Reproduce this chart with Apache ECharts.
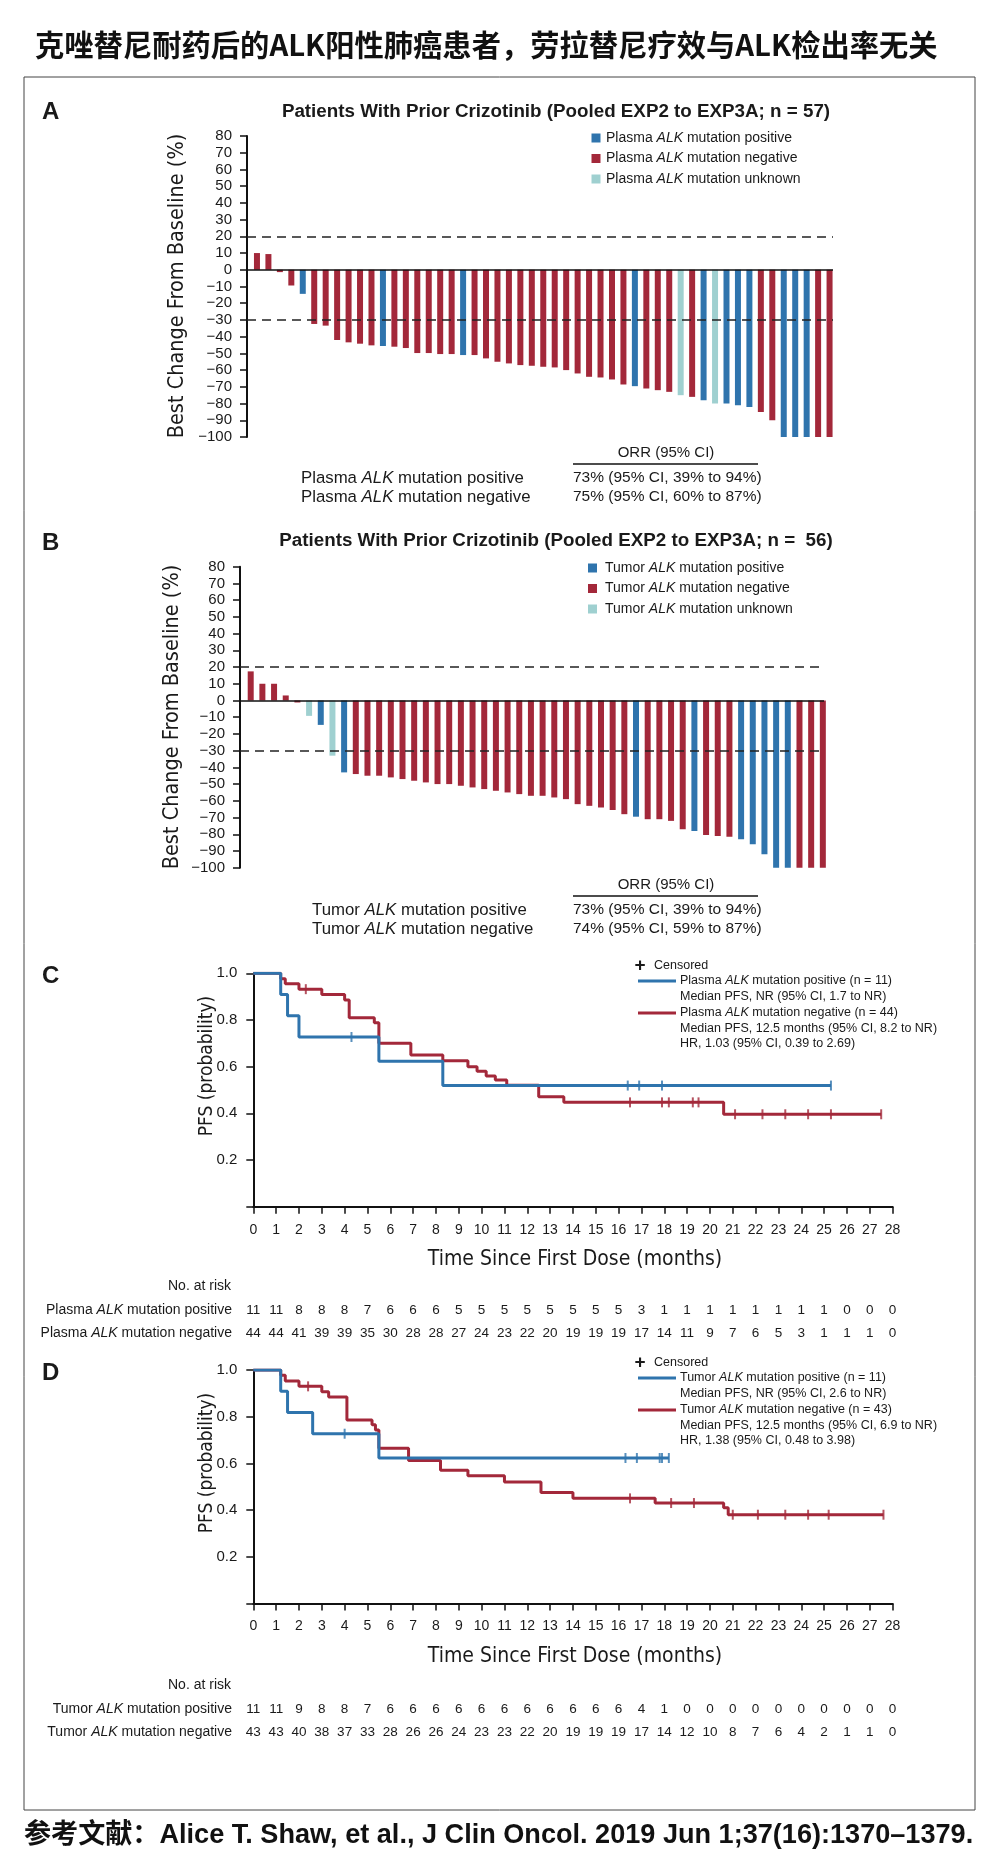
<!DOCTYPE html>
<html><head><meta charset="utf-8">
<script src="https://cdn.jsdelivr.net/npm/echarts@6/dist/echarts.min.js"></script>
<style>html,body{margin:0;padding:0;background:#fff}#c{width:993px;height:1860px}</style>
</head><body><div id="c"></div>
<script>
const FONT = "'Liberation Sans', Arial, Helvetica, sans-serif";
const COND = "'Liberation Sans Narrow','DejaVu Sans Condensed','Liberation Sans',sans-serif";
const CJK = "'Noto Sans CJK SC', sans-serif";
const MIX = "'Liberation Sans', 'Noto Sans CJK SC', sans-serif";
const INK = '#1a1a1a';
const BLUE = '#2f74ad', RED = '#a3283a', TEAL = '#9fd0d0';

// ---------- Panel A waterfall (plasma) ----------
const wfA_values = [10, 9.4, -1.4, -9.4, -14.4, -32.4, -33.4, -42, -43.4, -44.2, -45.2, -45.6, -46, -46.8, -49.8, -49.8, -50.4, -50.4, -51, -51, -53, -55, -56, -57, -57.4, -58, -58.4, -60, -62, -64, -64.4, -65.6, -68.6, -69.6, -71, -72, -73, -75, -76, -78, -80, -80, -81, -82, -85, -90, -100, -100, -100, -100, -100];
const wfA_status = ['N','N','N','N','P','N','N','N','N','N','N','P','N','N','N','N','N','N','P','N','N','N','N','N','N','N','N','N','N','N','N','N','N','P','N','N','N','U','N','P','U','P','P','P','N','N','P','P','P','N','N'];

// ---------- Panel B waterfall (tumor) ----------
const wfB_values = [17.4, 10, 10, 3, -1.2, -9.2, -14.6, -33, -43, -44, -45, -45, -46, -47, -48, -49, -50, -50, -51, -52, -53, -54, -55, -56, -57, -57, -58, -59, -62, -63, -64, -65.5, -68, -69.5, -71, -71, -72, -77, -78, -80.5, -81, -81.5, -83, -86, -92, -100, -100, -100, -100, -100];
const wfB_status = ['N','N','N','N','N','U','P','U','P','N','N','N','N','N','N','N','N','N','N','N','N','N','N','N','N','N','N','N','N','N','N','N','N','P','N','N','N','N','P','N','N','N','P','P','P','P','P','N','N','N'];

// ---------- Panel C Kaplan-Meier (plasma) ----------
const kmC_pos_t = [0, 1.2, 1.5, 2.0, 5.5, 8.3, 25.3];
const kmC_pos_s = [1, 0.909, 0.818, 0.727, 0.623, 0.519, 0.519];
const kmC_pos_cens = [4.3, 16.4, 16.9, 17.9, 25.3];
const kmC_neg_t = [0, 1.2, 1.4, 2.0, 3.0, 4.0, 4.2, 5.3, 5.5, 6.9, 8.3, 9.4, 9.8, 10.2, 10.6, 11.1, 12.5, 13.6, 20.6, 27.5];
const kmC_neg_s = [1, 0.977, 0.955, 0.932, 0.909, 0.886, 0.81, 0.788, 0.70, 0.65, 0.625, 0.60, 0.58, 0.56, 0.543, 0.52, 0.471, 0.447, 0.396, 0.396];
const kmC_neg_cens = [2.3, 16.5, 17.9, 18.2, 19.25, 19.5, 21.1, 22.3, 23.3, 24.3, 25.3, 27.5];
const riskC_pos = [11,11,8,8,8,7,6,6,6,5,5,5,5,5,5,5,5,3,1,1,1,1,1,1,1,1,0,0,0];
const riskC_neg = [44,44,41,39,39,35,30,28,28,27,24,23,22,20,19,19,19,17,14,11,9,7,6,5,3,1,1,1,0];

// ---------- Panel D Kaplan-Meier (tumor) ----------
const kmD_pos_t = [0, 1.2, 1.5, 2.6, 5.5, 18.2];
const kmD_pos_s = [1, 0.909, 0.818, 0.727, 0.623, 0.623];
const kmD_pos_cens = [4.0, 16.3, 16.8, 17.8, 17.9, 18.2];
const kmD_neg_t = [0, 1.2, 1.4, 2.0, 3.0, 3.3, 4.1, 5.2, 5.35, 5.5, 6.8, 8.2, 9.4, 11.0, 12.6, 14.0, 17.6, 20.6, 20.8, 27.6];
const kmD_neg_s = [1, 0.977, 0.953, 0.930, 0.907, 0.884, 0.786, 0.765, 0.743, 0.665, 0.612, 0.57, 0.547, 0.52, 0.475, 0.45, 0.43, 0.41, 0.38, 0.38];
const kmD_neg_cens = [2.4, 16.5, 18.3, 19.3, 21.0, 22.1, 23.3, 24.3, 25.2, 27.6];
const riskD_pos = [11,11,9,8,8,7,6,6,6,6,6,6,6,6,6,6,6,4,1,0,0,0,0,0,0,0,0,0,0];
const riskD_neg = [43,43,40,38,37,33,28,26,26,24,23,23,22,20,19,19,19,17,14,12,10,8,7,6,4,2,1,1,0];

const statusColor = {P: BLUE, N: RED, U: TEAL};

const chart = echarts.init(document.getElementById('c'), null, {width: 993, height: 1860});

function wfX(gi, min, max) {
  return {type: 'value', gridIndex: gi, min, max, show: false};
}
function wfY(gi) {
  return {type: 'value', gridIndex: gi, min: -100, max: 80, interval: 10,
    axisLine: {show: true, onZero: false, lineStyle: {color: '#111', width: 2}},
    axisTick: {show: true, length: 7, lineStyle: {color: '#111', width: 1.5}},
    axisLabel: {color: INK, fontSize: 15, fontFamily: FONT, margin: 15,
      formatter: v => v < 0 ? '\u2212' + Math.abs(v) : String(v)},
    splitLine: {show: false}};
}
function wfSeries(gi, vals, stat) {
  const out = [];
  ['P', 'N', 'U'].forEach((s, k) => {
    const ser = {type: 'bar', xAxisIndex: gi, yAxisIndex: gi, barWidth: 6, barGap: '-100%',
      itemStyle: {color: statusColor[s]}, silent: true,
      data: vals.map((v, i) => stat[i] === s ? [i, v] : null).filter(d => d)};
    if (k === 0) {
      ser.markLine = {silent: true, symbol: 'none', label: {show: false},
        data: [
          {yAxis: 20, lineStyle: {type: [9, 6], color: '#222', width: 1.6}},
          {yAxis: -30, lineStyle: {type: [9, 6], color: '#222', width: 1.6}},
          {yAxis: 0, lineStyle: {type: 'solid', color: '#111', width: 1.6}}
        ]};
    }
    out.push(ser);
  });
  return out;
}
function kmX(gi) {
  return {type: 'value', gridIndex: gi, min: 0, max: 28, interval: 1,
    axisLine: {show: true, onZero: false, lineStyle: {color: '#111', width: 2}},
    axisTick: {show: true, length: 7, lineStyle: {color: '#111', width: 1.5}},
    axisLabel: {color: INK, fontSize: 14, fontFamily: FONT, margin: 16},
    splitLine: {show: false}};
}
function kmY(gi) {
  return {type: 'value', gridIndex: gi, min: 0, max: 1, interval: 0.2,
    axisLine: {show: true, onZero: false, lineStyle: {color: '#111', width: 2}},
    axisTick: {show: true, length: 7, lineStyle: {color: '#111', width: 1.5}},
    axisLabel: {color: INK, fontSize: 15, fontFamily: FONT, margin: 16,
      formatter: v => v === 0 ? '' : v.toFixed(1)},
    splitLine: {show: false}};
}
function survAt(t, s, x) {
  let v = s[0];
  for (let i = 0; i < t.length; i++) { if (t[i] <= x) v = s[i]; }
  return v;
}
function kmSeries(gi, t, s, cens, color, z) {
  return [
    {type: 'line', xAxisIndex: gi, yAxisIndex: gi, step: 'end', symbol: 'none', silent: true, z,
      lineStyle: {color, width: 3}, data: t.map((x, i) => [x, s[i]])},
    {type: 'scatter', xAxisIndex: gi, yAxisIndex: gi, symbol: 'rect', symbolSize: [2, 10], silent: true, z: z + 1,
      itemStyle: {color}, data: cens.map(c => [c, survAt(t, s, c)])}
  ];
}

const option = {
  animation: false,
  backgroundColor: '#fff',
  grid: [
    {left: 247, top: 136, width: 586, height: 301},
    {left: 240, top: 566.7, width: 584, height: 301},
    {left: 253.3, top: 973.3, width: 639.3, height: 233.4},
    {left: 253.3, top: 1370, width: 639.3, height: 233.4}
  ],
  xAxis: [wfX(0, -0.87, 50.3), wfX(1, -0.917, 49.1), kmX(2), kmX(3)],
  yAxis: [wfY(0), wfY(1), kmY(2), kmY(3)],
  series: [].concat(
    wfSeries(0, wfA_values, wfA_status),
    wfSeries(1, wfB_values, wfB_status),
    kmSeries(2, kmC_neg_t, kmC_neg_s, kmC_neg_cens, RED, 3),
    kmSeries(2, kmC_pos_t, kmC_pos_s, kmC_pos_cens, BLUE, 5),
    kmSeries(3, kmD_neg_t, kmD_neg_s, kmD_neg_cens, RED, 3),
    kmSeries(3, kmD_pos_t, kmD_pos_s, kmD_pos_cens, BLUE, 5)
  )
};
chart.setOption(option);

// ---------- text & decorations ----------
function T(x, y, text, o) {
  o = o || {};
  const size = o.s || 14, fam = o.f || FONT, w = o.w || 'normal';
  const st = {text, x: 0, y: 0, fill: o.c || INK, fontSize: size, fontFamily: fam, fontWeight: w,
    align: o.a || 'left', verticalAlign: o.v || 'middle'};
  if (o.rich) st.rich = o.rich;
  return {type: 'text', x, y, rotation: o.r || 0, silent: true, z: 10, style: st};
}
function alkRich(size) {
  return {
    n: {fontSize: size, fontFamily: FONT, fill: INK, color: INK},
    i: {fontSize: size, fontFamily: FONT, fontStyle: 'italic', fill: INK, color: INK}
  };
}
function alkText(x, y, pre, post, size, align) {
  return T(x, y, '{n|' + pre + '}{i|ALK}{n|' + post + '}', {s: size, a: align, rich: alkRich(size)});
}
function sq(x, y, color, size) {
  return {type: 'rect', silent: true, z: 10, shape: {x: x - size / 2, y: y - size / 2, width: size, height: size}, style: {fill: color}};
}
function ln(x1, y1, x2, y2, color, w) {
  return {type: 'line', silent: true, z: 10, shape: {x1, y1, x2, y2}, style: {stroke: color, lineWidth: w}};
}

const g = [];
// frame
g.push({type: 'rect', silent: true, z: 1, shape: {x: 24, y: 77, width: 951, height: 1733}, style: {fill: 'none', stroke: '#444', lineWidth: 1}});
// header / footer
g.push(T(35, 45, '克唑替尼耐药后的ALK阳性肺癌患者，劳拉替尼疗效与ALK检出率无关', {s: 29.3, f: CJK, w: 'bold', c: '#111'}));
g.push(T(24, 1836, '参考文献：Alice T. Shaw, et al., J Clin Oncol. 2019 Jun 1;37(16):1370\u20131379.', {s: 27.1, f: MIX, w: 'bold', c: '#111'}));

// Panel A
g.push(T(42, 112, 'A', {s: 24, w: 'bold'}));
g.push(T(556, 112, 'Patients With Prior Crizotinib (Pooled EXP2 to EXP3A; n = 57)', {s: 18.8, w: 'bold', a: 'center'}));
[['Plasma ', ' mutation positive', BLUE, 138], ['Plasma ', ' mutation negative', RED, 158.5], ['Plasma ', ' mutation unknown', TEAL, 179]].forEach(r => {
  g.push(sq(596, r[3], r[2], 9));
  g.push(alkText(606, r[3], r[0], r[1], 14));
});
g.push(T(177, 286, 'Best Change From Baseline (%)', {s: 21.5, f: COND, a: 'center', r: Math.PI / 2}));
g.push(T(666, 453, 'ORR (95% CI)', {s: 15, a: 'center'}));
g.push(ln(573, 464, 758, 464, '#111', 1.5));
g.push(alkText(301, 478, 'Plasma ', ' mutation positive', 16.8));
g.push(alkText(301, 497, 'Plasma ', ' mutation negative', 16.8));
g.push(T(573, 478, '73% (95% CI, 39% to 94%)', {s: 15.5}));
g.push(T(573, 497, '75% (95% CI, 60% to 87%)', {s: 15.5}));

// Panel B
g.push(T(42, 543, 'B', {s: 24, w: 'bold'}));
g.push(T(556, 541, 'Patients With Prior Crizotinib (Pooled EXP2 to EXP3A; n =  56)', {s: 18.8, w: 'bold', a: 'center'}));
[['Tumor ', ' mutation positive', BLUE, 568], ['Tumor ', ' mutation negative', RED, 588.5], ['Tumor ', ' mutation unknown', TEAL, 609]].forEach(r => {
  g.push(sq(592.5, r[3], r[2], 9));
  g.push(alkText(605, r[3], r[0], r[1], 14));
});
g.push(T(172, 717, 'Best Change From Baseline (%)', {s: 21.5, f: COND, a: 'center', r: Math.PI / 2}));
g.push(T(666, 885, 'ORR (95% CI)', {s: 15, a: 'center'}));
g.push(ln(573, 896, 758, 896, '#111', 1.5));
g.push(alkText(312, 910, 'Tumor ', ' mutation positive', 16.8));
g.push(alkText(312, 929, 'Tumor ', ' mutation negative', 16.8));
g.push(T(573, 910, '73% (95% CI, 39% to 94%)', {s: 15.5}));
g.push(T(573, 929, '74% (95% CI, 59% to 87%)', {s: 15.5}));

// KM panels
function kmDecor(letter, dy, word, npos, nneg, medPos, medNeg, hr, riskPos, riskNeg, gi) {
  g.push(T(42, 976 + dy, letter, {s: 24, w: 'bold'}));
  g.push(T(207, 1066 + dy, 'PFS (probability)', {s: 19, f: COND, a: 'center', r: Math.PI / 2}));
  g.push(T(575, 1260 + dy, 'Time Since First Dose (months)', {s: 21, f: COND, a: 'center'}));
  // legend
  g.push(T(640, 966 + dy, '+', {s: 19, w: 'bold', a: 'center'}));
  g.push(T(654, 966 + dy, 'Censored', {s: 12.5}));
  g.push(ln(638, 981 + dy, 676, 981 + dy, BLUE, 3));
  g.push(alkText(680, 981 + dy, word, ' mutation positive (n = ' + npos + ')', 12.5));
  g.push(T(680, 996.5 + dy, medPos, {s: 12.5}));
  g.push(ln(638, 1013 + dy, 676, 1013 + dy, RED, 3));
  g.push(alkText(680, 1013 + dy, word, ' mutation negative (n = ' + nneg + ')', 12.5));
  g.push(T(680, 1028.5 + dy, medNeg, {s: 12.5}));
  g.push(T(680, 1044 + dy, hr, {s: 12.5}));
  // risk table
  const r0 = dy === 0 ? 1286 : 1288 + dy;
  const r1 = dy === 0 ? 1310 : 1312 + dy;
  const r2 = dy === 0 ? 1333 : 1335 + dy;
  g.push(T(231, r0, 'No. at risk', {s: 14, a: 'right'}));
  g.push(alkText(232, r1, word, ' mutation positive', 14, 'right'));
  g.push(alkText(232, r2, word, ' mutation negative', 14, 'right'));
  riskPos.forEach((n, i) => {
    const x = chart.convertToPixel({xAxisIndex: gi}, i);
    g.push(T(x, r1, String(n), {s: 13.5, a: 'center'}));
    g.push(T(x, r2, String(riskNeg[i]), {s: 13.5, a: 'center'}));
  });
}
kmDecor('C', 0, 'Plasma ', 11, 44, 'Median PFS, NR (95% CI, 1.7 to NR)', 'Median PFS, 12.5 months (95% CI, 8.2 to NR)', 'HR, 1.03 (95% CI, 0.39 to 2.69)', riskC_pos, riskC_neg, 2);
kmDecor('D', 397, 'Tumor ', 11, 43, 'Median PFS, NR (95% CI, 2.6 to NR)', 'Median PFS, 12.5 months (95% CI, 6.9 to NR)', 'HR, 1.38 (95% CI, 0.48 to 3.98)', riskD_pos, riskD_neg, 3);

chart.setOption({graphic: {elements: g}});
</script>
</body></html>
